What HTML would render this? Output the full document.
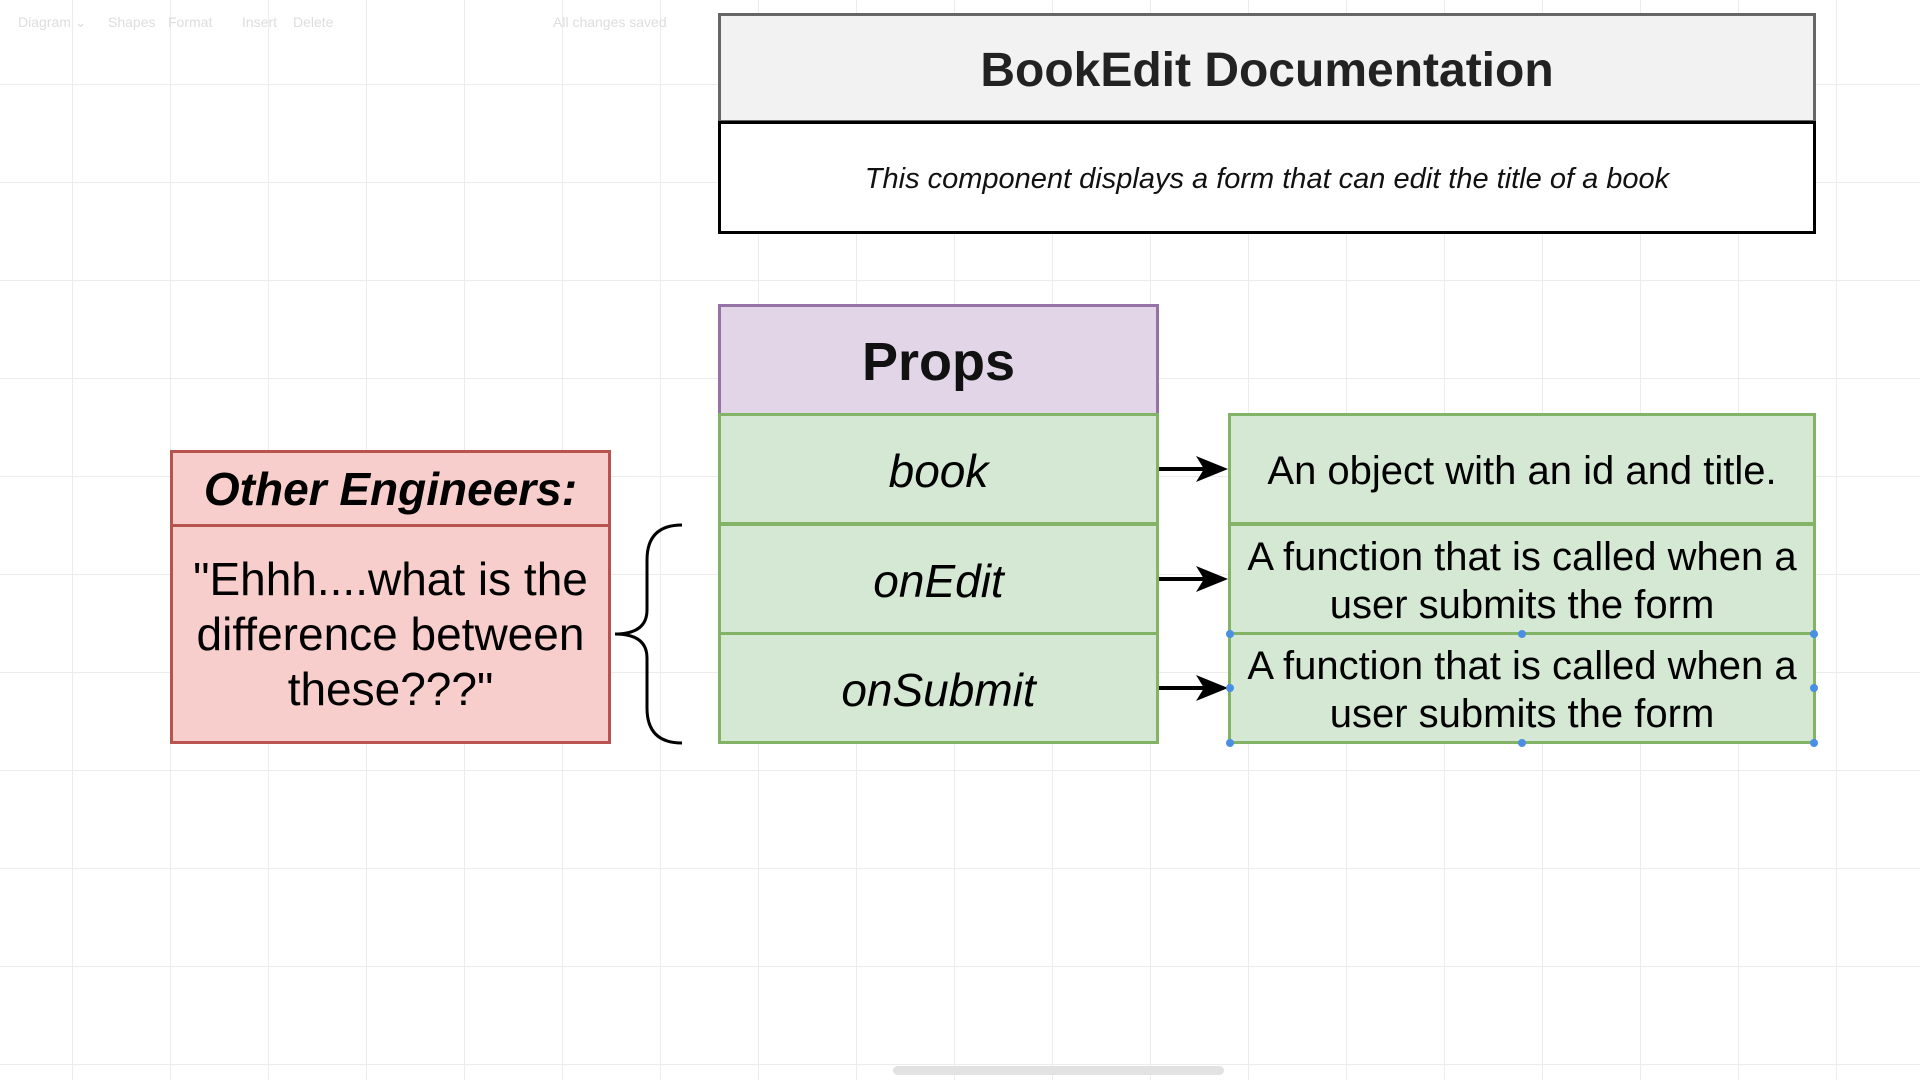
<!DOCTYPE html>
<html><head><style>
body{margin:0;width:1920px;height:1080px;overflow:hidden;background:#fff;font-family:"Liberation Sans",sans-serif;position:relative;
background-image:linear-gradient(#ececec 1px,transparent 1px),linear-gradient(90deg,#ececec 1px,transparent 1px);background-size:98px 98px;background-position:-26px -14px;}
.b{position:absolute;box-sizing:border-box;display:flex;align-items:center;justify-content:center;text-align:center;}
.g{background:#d5e8d4;border:3px solid #82b366;}
.tb{position:absolute;top:14px;color:#ddd;font-size:14px}
</style></head><body>
<div class="tb" style="left:18px">Diagram ⌄</div><div class="tb" style="left:108px">Shapes</div><div class="tb" style="left:168px">Format</div>
<div class="tb" style="left:242px">Insert</div><div class="tb" style="left:293px">Delete</div><div class="tb" style="left:553px">All changes saved</div>

<div class="b" style="left:718px;top:13px;width:1098px;height:110px;background:#f2f2f2;border:3px solid #666;font-weight:bold;font-size:48px;color:#222;padding-top:4px">BookEdit Documentation</div>
<div class="b" style="left:718px;top:121px;width:1098px;height:113px;background:#fff;border:3px solid #000;font-style:italic;font-size:29px;color:#111;padding-top:4px">This component displays a form that can edit the title of a book</div>

<div class="b" style="left:718px;top:304px;width:441px;height:112px;background:#e1d5e7;border:3px solid #9673a6;font-weight:bold;font-size:54px;color:#111;padding-top:4px">Props</div>
<div class="b g" style="left:718px;top:413px;width:441px;height:112px;font-style:italic;font-size:46px;padding-top:4px">book</div>
<div class="b g" style="left:718px;top:523px;width:441px;height:112px;font-style:italic;font-size:46px;padding-top:4px">onEdit</div>
<div class="b g" style="left:718px;top:632px;width:441px;height:112px;font-style:italic;font-size:46px;padding-top:4px">onSubmit</div>

<div class="b g" style="left:1228px;top:413px;width:588px;height:112px;font-size:40px;padding-top:4px">An object with an id and title.</div>
<div class="b g" style="left:1228px;top:523px;width:588px;height:112px;font-size:40px;line-height:48px;padding-top:4px">A function that is called when a<br>user submits the form</div>
<div class="b g" style="left:1228px;top:632px;width:588px;height:112px;font-size:40px;line-height:48px;padding-top:4px">A function that is called when a<br>user submits the form</div>

<div class="b" style="left:170px;top:450px;width:441px;height:77px;background:#f8cecc;border:3px solid #b85450;font-weight:bold;font-style:italic;font-size:46px">Other Engineers:</div>
<div class="b" style="left:170px;top:524px;width:441px;height:220px;background:#f8cecc;border:3px solid #b85450;font-size:46px;line-height:55px">"Ehhh....what is the<br>difference between<br>these???"</div>

<svg style="position:absolute;left:0;top:0" width="1920" height="1080">
<g stroke="#000" stroke-width="4" fill="none">
<path d="M1159,469 H1210"/>
<path d="M1159,579 H1210"/>
<path d="M1159,688 H1210"/>
</g>
<g fill="#000">
<path d="M1196,456 L1228,469 L1196,482 L1204,469z"/>
<path d="M1196,566 L1228,579 L1196,592 L1204,579z"/>
<path d="M1196,675 L1228,688 L1196,701 L1204,688z"/>
</g>
<path d="M682,525 Q647,525 647,560 V610 Q647,634 615,634 Q647,634 647,658 V708 Q647,743 682,743" stroke="#000" stroke-width="3" fill="none"/>
<g fill="#4a90e2"><circle cx="1230" cy="634" r="4"/><circle cx="1522" cy="634" r="4"/><circle cx="1814" cy="634" r="4"/><circle cx="1230" cy="688" r="4"/><circle cx="1814" cy="688" r="4"/><circle cx="1230" cy="743" r="4"/><circle cx="1522" cy="743" r="4"/><circle cx="1814" cy="743" r="4"/></g>
</svg>
<div style="position:absolute;left:893px;top:1066px;width:331px;height:9px;border-radius:5px;background:#e2e2e2"></div>
</body></html>
